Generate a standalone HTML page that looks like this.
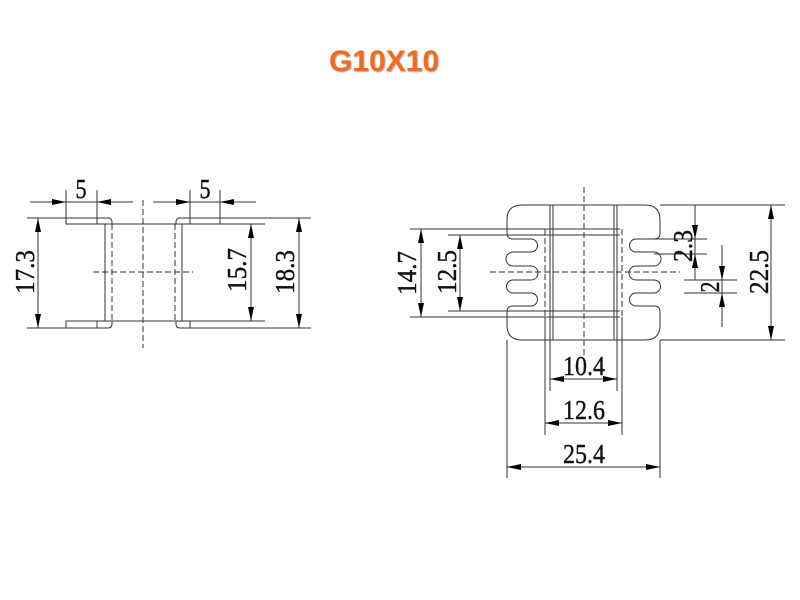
<!DOCTYPE html>
<html><head><meta charset="utf-8"><style>
html,body{margin:0;padding:0;background:#fff;width:800px;height:600px;overflow:hidden}
svg{display:block}
.t{font-family:"Liberation Serif",serif;font-size:27px;fill:#111;stroke:#111;stroke-width:0.4}
</style></head><body>
<svg width="800" height="600" viewBox="0 0 800 600" xmlns="http://www.w3.org/2000/svg">
<defs>
<marker id="a" viewBox="0 0 14 6" refX="14" refY="3" markerWidth="14" markerHeight="6" markerUnits="userSpaceOnUse" orient="auto-start-reverse"><path d="M0,0 L14,3 L0,6 Z" fill="#000"/></marker>
</defs>
<text x="384" y="71" text-anchor="middle" font-family="Liberation Sans, sans-serif" font-weight="bold" font-size="30" fill="#f26a1b" style="text-shadow:1px 1px 1px #c9a">G10X10</text>

<g stroke="#333" stroke-width="1" fill="none">
<!-- LEFT VIEW -->
<path d="M66,218 H108 Q112,218 112,222 V224 H66 Z"/>
<path d="M220,218 H180 Q176,218 176,222 V224 H220"/>
<path d="M66,328 H108 Q112,328 112,324 V321 H66 Z"/>
<path d="M220,328 H180 Q176,328 176,324 V321 H220"/>
<line x1="105" y1="224" x2="105" y2="321"/>
<line x1="182" y1="224" x2="182" y2="321"/>
<line x1="105" y1="224" x2="265" y2="224"/>
<line x1="105" y1="321" x2="265" y2="321"/>
<line x1="97" y1="190" x2="97" y2="224"/>
<line x1="97" y1="321" x2="97" y2="328"/>
<line x1="190" y1="190" x2="190" y2="224"/>
<line x1="190" y1="321" x2="190" y2="328"/>
<line x1="66" y1="190" x2="66" y2="224"/>
<line x1="220" y1="190" x2="220" y2="224"/>
<line x1="27" y1="218" x2="66" y2="218"/>
<line x1="27" y1="328" x2="66" y2="328"/>
<line x1="220" y1="218" x2="311" y2="218"/>
<line x1="220" y1="328" x2="311" y2="328"/>
<g stroke-dasharray="6,3">
<line x1="112" y1="224" x2="112" y2="321"/>
<line x1="175" y1="224" x2="175" y2="321"/>
<line x1="143" y1="200" x2="143" y2="348"/>
<line x1="93" y1="272" x2="193" y2="272"/>
</g>
<line x1="30" y1="202" x2="66" y2="202" marker-end="url(#a)"/>
<line x1="66" y1="202" x2="97" y2="202"/>
<line x1="133" y1="202" x2="97" y2="202" marker-end="url(#a)"/>
<line x1="153" y1="202" x2="190" y2="202" marker-end="url(#a)"/>
<line x1="190" y1="202" x2="220" y2="202"/>
<line x1="256" y1="202" x2="220" y2="202" marker-end="url(#a)"/>
<line x1="38" y1="218" x2="38" y2="328" marker-start="url(#a)" marker-end="url(#a)"/>
<line x1="251" y1="224" x2="251" y2="321" marker-start="url(#a)" marker-end="url(#a)"/>
<line x1="299" y1="218" x2="299" y2="328" marker-start="url(#a)" marker-end="url(#a)"/>

<!-- RIGHT VIEW -->
<path d="M522,205 H645 Q660,205 660,220 V233 Q660,239 654,239 H636 A6.5,6.5 0 0 0 636,252 H654 A7,7 0 0 1 654,266 H636 A7,7 0 0 0 636,280 H654 A6.5,6.5 0 0 1 654,293 H636 A6.5,6.5 0 0 0 636,306 H654 Q660,306 660,312 V325 Q660,340 645,340 H522 Q507,340 507,325 V312 Q507,306 513,306 H531 A6.5,6.5 0 0 0 531,293 H513 A6.5,6.5 0 0 1 513,280 H531 A7,7 0 0 0 531,266 H513 A7,7 0 0 1 513,252 H531 A6.5,6.5 0 0 0 531,239 H513 Q507,239 507,233 V220 Q507,205 522,205 Z"/>
<line x1="550" y1="205" x2="550" y2="391"/>
<line x1="553" y1="205" x2="553" y2="340"/>
<line x1="614" y1="205" x2="614" y2="340"/>
<line x1="617" y1="205" x2="617" y2="391"/>
<line x1="410" y1="229" x2="620" y2="229"/>
<line x1="410" y1="317" x2="620" y2="317"/>
<line x1="448" y1="235" x2="620" y2="235"/>
<line x1="448" y1="311" x2="620" y2="311"/>
<line x1="545" y1="317" x2="545" y2="435"/>
<line x1="622" y1="317" x2="622" y2="435"/>
<line x1="507" y1="340" x2="507" y2="478"/>
<line x1="660" y1="340" x2="660" y2="478"/>
<g stroke-dasharray="6,3">
<line x1="545" y1="229" x2="545" y2="317"/>
<line x1="622" y1="229" x2="622" y2="317"/>
<line x1="584" y1="187" x2="584" y2="355"/>
<line x1="490" y1="272" x2="680" y2="272"/>
</g>
<line x1="421" y1="229" x2="421" y2="317" marker-start="url(#a)" marker-end="url(#a)"/>
<line x1="460" y1="235" x2="460" y2="311" marker-start="url(#a)" marker-end="url(#a)"/>
<line x1="550" y1="379" x2="617" y2="379" marker-start="url(#a)" marker-end="url(#a)"/>
<line x1="545" y1="423" x2="622" y2="423" marker-start="url(#a)" marker-end="url(#a)"/>
<line x1="507" y1="467" x2="660" y2="467" marker-start="url(#a)" marker-end="url(#a)"/>
<line x1="660" y1="205" x2="785" y2="205"/>
<line x1="660" y1="340" x2="785" y2="340"/>
<line x1="771" y1="205" x2="771" y2="340" marker-start="url(#a)" marker-end="url(#a)"/>
<line x1="654" y1="239" x2="707" y2="239"/>
<line x1="654" y1="254" x2="707" y2="254"/>
<line x1="695" y1="205" x2="695" y2="239" marker-end="url(#a)"/>
<line x1="695" y1="239" x2="695" y2="254"/>
<line x1="695" y1="280" x2="695" y2="254" marker-end="url(#a)"/>
<line x1="684" y1="280" x2="737" y2="280"/>
<line x1="684" y1="293" x2="737" y2="293"/>
<line x1="722" y1="245" x2="722" y2="280" marker-end="url(#a)"/>
<line x1="722" y1="280" x2="722" y2="293"/>
<line x1="722" y1="327" x2="722" y2="293" marker-end="url(#a)"/>
</g>

<g class="t">
<text x="81" y="198" text-anchor="middle" textLength="11" lengthAdjust="spacingAndGlyphs">5</text>
<text x="205" y="198" text-anchor="middle" textLength="11" lengthAdjust="spacingAndGlyphs">5</text>
<text transform="translate(34,272) rotate(-90)" text-anchor="middle" textLength="44" lengthAdjust="spacingAndGlyphs">17.3</text>
<text transform="translate(246,270) rotate(-90)" text-anchor="middle" textLength="44" lengthAdjust="spacingAndGlyphs">15.7</text>
<text transform="translate(294,272) rotate(-90)" text-anchor="middle" textLength="44" lengthAdjust="spacingAndGlyphs">18.3</text>
<text transform="translate(416,273) rotate(-90)" text-anchor="middle" textLength="44" lengthAdjust="spacingAndGlyphs">14.7</text>
<text transform="translate(456,272) rotate(-90)" text-anchor="middle" textLength="44" lengthAdjust="spacingAndGlyphs">12.5</text>
<text transform="translate(692,246) rotate(-90)" text-anchor="middle" textLength="32" lengthAdjust="spacingAndGlyphs">2.3</text>
<text transform="translate(719,287) rotate(-90)" text-anchor="middle" textLength="11" lengthAdjust="spacingAndGlyphs">2</text>
<text transform="translate(768,272) rotate(-90)" text-anchor="middle" textLength="44" lengthAdjust="spacingAndGlyphs">22.5</text>
<text x="584" y="375" text-anchor="middle" textLength="42" lengthAdjust="spacingAndGlyphs">10.4</text>
<text x="584" y="419" text-anchor="middle" textLength="42" lengthAdjust="spacingAndGlyphs">12.6</text>
<text x="584" y="463" text-anchor="middle" textLength="42" lengthAdjust="spacingAndGlyphs">25.4</text>
</g>
</svg>
</body></html>
